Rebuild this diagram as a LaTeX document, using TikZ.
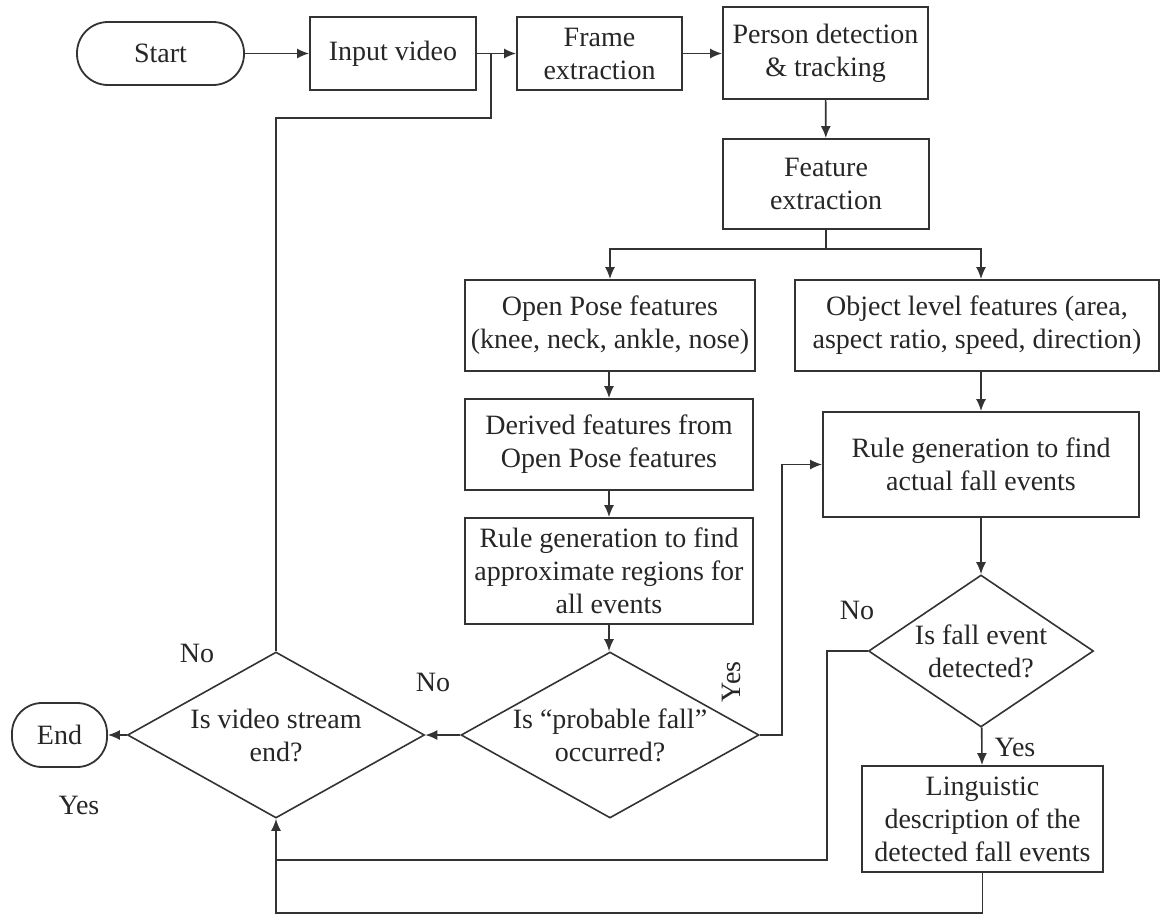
\documentclass[tikz,border=0pt]{standalone}
\usepackage{fontspec}
\setmainfont{Liberation Serif}
\usetikzlibrary{arrows.meta,shapes.geometric,calc}
\begin{document}
\begin{tikzpicture}[x=1pt,y=-1pt,
  every node/.style={font=\fontsize{28}{33}\selectfont, text=black!85},
  line/.style={draw=black!80, line width=1.6pt},
  arr/.style={line, -{Latex[length=12pt,width=10pt]}},
  box/.style={draw=black!80, line width=1.8pt, rectangle, inner sep=0pt, align=center},
  term/.style={box, rounded corners=31pt},
  dia/.style={draw=black!80, line width=1.6pt, diamond, inner sep=0pt},
  lbl/.style={inner sep=0pt}]
\useasboundingbox (0,0) rectangle (1161,918);
% nodes
\node[term, minimum width=167pt, minimum height=63pt] (start) at (160.5,53.5) {Start};
\node[box, minimum width=166pt, minimum height=73pt] (input) at (393,53.5) {Input video};
\node[box, minimum width=165pt, minimum height=73pt] (frame) at (599.5,53.5) {Frame\\extraction};
\node[box, minimum width=205pt, minimum height=92pt] (person) at (825.5,53) {Person detection\\\& tracking};
\node[box, minimum width=206pt, minimum height=90pt] (feature) at (826,184) {Feature\\extraction};
\node[box, minimum width=290pt, minimum height=91pt] (openpose) at (610,325.5) {Open Pose features\\(knee, neck, ankle, nose)};
\node[box, minimum width=364pt, minimum height=91pt] (object) at (977,325.5) {Object level features (area,\\aspect ratio, speed, direction)};
\node[box, minimum width=288pt, minimum height=91pt] (derived) at (609,444.5) {Derived features from\\Open Pose features};
\node[box, minimum width=288pt, minimum height=106pt] (ruleapprox) at (609,571) {Rule generation to find\\approximate regions for\\all events};
\node[box, minimum width=316pt, minimum height=105pt] (ruleactual) at (981,464.5) {Rule generation to find\\actual fall events};
\node[dia, minimum width=225pt, minimum height=152pt] (fall) at (981,651) {};
\node[align=center] at (fall.center) {Is fall event\\detected?};
\node[dia, minimum width=298pt, minimum height=166pt] (prob) at (610,735) {};
\node[align=center] at (prob.center) {Is “probable fall”\\occurred?};
\node[dia, minimum width=297pt, minimum height=166pt] (video) at (276,735) {};
\node[align=center] at (video.center) {Is video stream\\end?};
\node[term, minimum width=95pt, minimum height=64pt, rounded corners=30pt] (end) at (59.5,735) {End};
\node[box, minimum width=241pt, minimum height=106pt] (ling) at (982.5,819) {Linguistic\\description of the\\detected fall events};
% coordinates
\coordinate (br) at (826,249);
\coordinate (lp) at (491,118);
\coordinate (yesx) at (782,735);
\coordinate (nb) at (827,860);
\coordinate (bb) at (982.5,913);
% connectors
\draw[arr] (start) -- (input);
\draw[arr] (input) -- (frame);
\draw[arr] (frame.east) -- (frame.east -| person.west);
\draw[arr] (person) -- (feature);
\draw[line] (feature.south) -- (br);
\draw[arr] (br) -| (openpose.north);
\draw[arr] (br) -| (ruleactual.north |- object.north);
\draw[arr] (ruleactual.north |- object.south) -- (ruleactual.north);
\draw[arr] (derived.north |- openpose.south) -- (derived.north);
\draw[arr] (derived) -- (ruleapprox);
\draw[arr] (ruleapprox) -- (prob.north -| ruleapprox.south);
\draw[arr] (ruleactual) -- (fall);
\draw[arr] (fall) -- (ling);
\draw[arr] (prob.west) -- (video.east);
\draw[arr] (prob.east) -- (yesx) |- (ruleactual.west);
\draw[arr] (video.west) -- (end.east);
\draw[line] (video.north) |- (lp) -- (lp |- input.east);
\draw[line] (fall.west) -| (nb) -- (video.south |- nb);
\draw[arr] (ling.south) -- (bb) -| (video.south);
% labels
\node[lbl] at (197,653) {No};
\node[lbl] at (433,682) {No};
\node[lbl] at (79,805) {Yes};
\node[lbl, rotate=90] at (731,682) {Yes};
\node[lbl] at (857,610) {No};
\node[lbl] at (1015,747) {Yes};
\end{tikzpicture}
\end{document}
